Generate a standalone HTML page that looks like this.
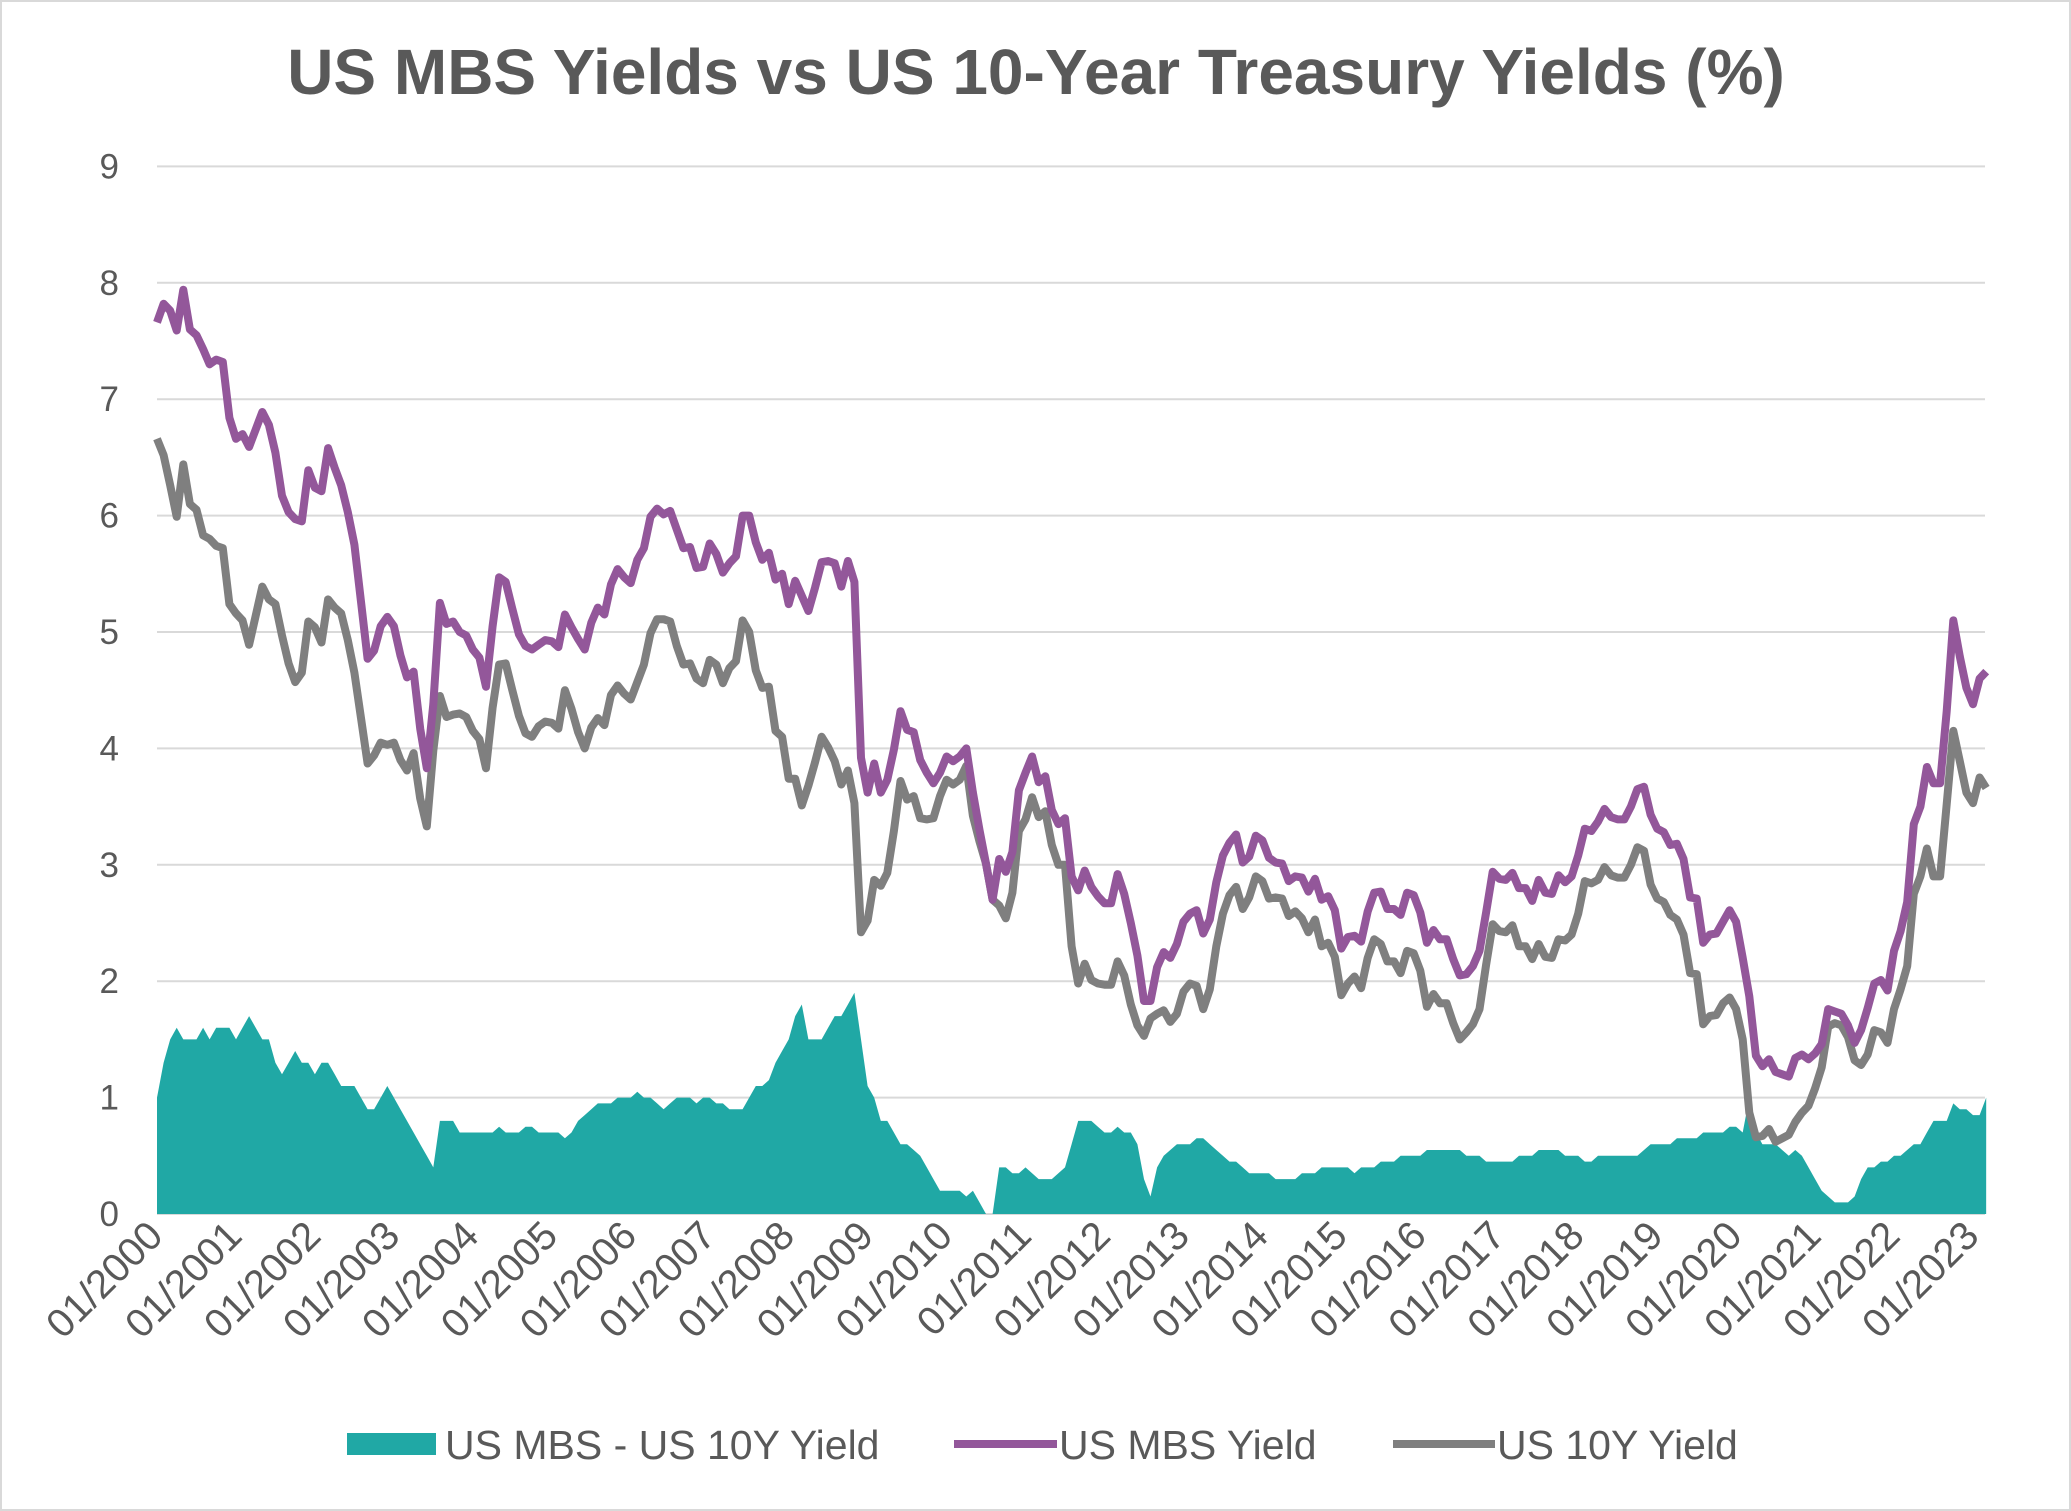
<!DOCTYPE html>
<html><head><meta charset="utf-8"><style>
html,body{margin:0;padding:0;background:#fff;}
svg{display:block;font-family:"Liberation Sans",Arial,sans-serif;}
</style></head><body>
<svg id="chart" width="2071" height="1511" viewBox="0 0 2071 1511" xmlns="http://www.w3.org/2000/svg">
<rect x="1" y="1" width="2069" height="1509" fill="#fff" stroke="#d9d9d9" stroke-width="2"/>
<text x="1036" y="94" text-anchor="middle" font-size="64" font-weight="bold" fill="#595959">US MBS Yields vs US 10-Year Treasury Yields (%)</text>
<g id="grid"></g><g id="yticks"></g><g id="xticks"></g><g id="series"></g>
<g>
<rect x="347" y="1433" width="89" height="22" fill="#20A8A5"/>
<text x="445" y="1459" font-size="41" fill="#595959">US MBS - US 10Y Yield</text>
<line x1="954" y1="1444" x2="1057" y2="1444" stroke="#93579A" stroke-width="8"/>
<text x="1059" y="1459" font-size="41" fill="#595959">US MBS Yield</text>
<line x1="1393" y1="1444" x2="1495" y2="1444" stroke="#7F7F7F" stroke-width="8"/>
<text x="1497" y="1459" font-size="41" fill="#595959">US 10Y Yield</text>
</g>
</svg>
<script>
const yTicks=[0,1,2,3,4,5,6,7,8,9];
const xTickLabels=["01/2000","01/2001","01/2002","01/2003","01/2004","01/2005","01/2006","01/2007","01/2008","01/2009","01/2010","01/2011","01/2012","01/2013","01/2014","01/2015","01/2016","01/2017","01/2018","01/2019","01/2020","01/2021","01/2022","01/2023"];
const tenY=[6.66,6.52,6.26,5.99,6.44,6.10,6.05,5.83,5.80,5.74,5.72,5.24,
5.16,5.10,4.89,5.14,5.39,5.28,5.24,4.97,4.73,4.57,4.65,5.09,
5.04,4.91,5.28,5.21,5.16,4.93,4.65,4.26,3.87,3.94,4.05,4.03,
4.05,3.90,3.81,3.96,3.57,3.33,3.98,4.45,4.27,4.29,4.30,4.27,
4.15,4.08,3.83,4.35,4.72,4.73,4.50,4.28,4.13,4.10,4.19,4.23,
4.22,4.17,4.50,4.34,4.14,4.00,4.18,4.26,4.20,4.46,4.54,4.47,
4.42,4.57,4.72,4.99,5.11,5.11,5.09,4.88,4.72,4.73,4.60,4.56,
4.76,4.72,4.56,4.69,4.75,5.10,5.00,4.67,4.52,4.53,4.15,4.10,
3.74,3.74,3.51,3.68,3.88,4.10,4.01,3.89,3.69,3.81,3.53,2.42,
2.52,2.87,2.82,2.93,3.29,3.72,3.56,3.59,3.40,3.39,3.40,3.59,
3.73,3.69,3.73,3.85,3.42,3.20,3.01,2.70,2.65,2.54,2.76,3.29,
3.39,3.58,3.41,3.46,3.17,3.00,3.00,2.30,1.98,2.15,2.01,1.98,
1.97,1.97,2.17,2.05,1.80,1.62,1.53,1.68,1.72,1.75,1.65,1.72,
1.91,1.98,1.96,1.76,1.93,2.30,2.58,2.74,2.81,2.62,2.72,2.90,
2.86,2.71,2.72,2.71,2.56,2.60,2.54,2.42,2.53,2.30,2.33,2.21,
1.88,1.98,2.04,1.94,2.20,2.36,2.32,2.17,2.17,2.07,2.26,2.24,
2.09,1.78,1.89,1.81,1.81,1.64,1.50,1.56,1.63,1.76,2.14,2.49,
2.43,2.42,2.48,2.30,2.30,2.19,2.32,2.21,2.20,2.36,2.35,2.40,
2.58,2.86,2.84,2.87,2.98,2.91,2.89,2.89,3.00,3.15,3.12,2.83,
2.71,2.68,2.57,2.53,2.40,2.07,2.06,1.63,1.70,1.71,1.81,1.86,
1.76,1.50,0.87,0.66,0.67,0.73,0.62,0.65,0.68,0.79,0.87,0.93,
1.08,1.26,1.61,1.64,1.62,1.52,1.32,1.28,1.37,1.58,1.56,1.47,
1.76,1.93,2.13,2.75,2.90,3.14,2.90,2.90,3.52,4.15,3.89,3.62,
3.53,3.75,3.66];
const spread=[1.0,1.3,1.5,1.6,1.5,1.5,1.5,1.6,1.5,1.6,1.6,1.6,
1.5,1.6,1.7,1.6,1.5,1.5,1.3,1.2,1.3,1.4,1.3,1.3,
1.2,1.3,1.3,1.2,1.1,1.1,1.1,1.0,0.9,0.9,1.0,1.1,
1.0,0.9,0.8,0.7,0.6,0.5,0.4,0.8,0.8,0.8,0.7,0.7,
0.7,0.7,0.7,0.7,0.75,0.7,0.7,0.7,0.75,0.75,0.7,0.7,
0.7,0.7,0.65,0.7,0.8,0.85,0.9,0.95,0.95,0.95,1.0,1.0,
1.0,1.05,1.0,1.0,0.95,0.9,0.95,1.0,1.0,1.0,0.95,1.0,
1.0,0.95,0.95,0.9,0.9,0.9,1.0,1.1,1.1,1.15,1.3,1.4,
1.5,1.7,1.8,1.5,1.5,1.5,1.6,1.7,1.7,1.8,1.9,1.5,
1.1,1.0,0.8,0.8,0.7,0.6,0.6,0.55,0.5,0.4,0.3,0.2,
0.2,0.2,0.2,0.15,0.2,0.1,0.0,0.0,0.4,0.4,0.35,0.35,
0.4,0.35,0.3,0.3,0.3,0.35,0.4,0.6,0.8,0.8,0.8,0.75,
0.7,0.7,0.75,0.7,0.7,0.6,0.3,0.15,0.4,0.5,0.55,0.6,
0.6,0.6,0.65,0.65,0.6,0.55,0.5,0.45,0.45,0.4,0.35,0.35,
0.35,0.35,0.3,0.3,0.3,0.3,0.35,0.35,0.35,0.4,0.4,0.4,
0.4,0.4,0.35,0.4,0.4,0.4,0.45,0.45,0.45,0.5,0.5,0.5,
0.5,0.55,0.55,0.55,0.55,0.55,0.55,0.5,0.5,0.5,0.45,0.45,
0.45,0.45,0.45,0.5,0.5,0.5,0.55,0.55,0.55,0.55,0.5,0.5,
0.5,0.45,0.45,0.5,0.5,0.5,0.5,0.5,0.5,0.5,0.55,0.6,
0.6,0.6,0.6,0.65,0.65,0.65,0.65,0.7,0.7,0.7,0.7,0.75,
0.75,0.7,1.0,0.7,0.6,0.6,0.6,0.55,0.5,0.55,0.5,0.4,
0.3,0.2,0.15,0.1,0.1,0.1,0.15,0.3,0.4,0.4,0.45,0.45,
0.5,0.5,0.55,0.6,0.6,0.7,0.8,0.8,0.8,0.95,0.9,0.9,
0.85,0.85,1.0];

const NS='http://www.w3.org/2000/svg';
const X0=157,XSTEP=(1973-157)/276,Y0=1214,YUNIT=(1214-166.4)/9,XR=1985;
function xScale(i){return X0+i*XSTEP;}
function yScale(v){return Y0-v*YUNIT;}
function mk(tag,attrs,parent){const e=document.createElementNS(NS,tag);for(const k in attrs)e.setAttribute(k,attrs[k]);parent.appendChild(e);return e;}
const grid=document.getElementById('grid'),yt=document.getElementById('yticks'),xt=document.getElementById('xticks'),ser=document.getElementById('series');
yTicks.forEach(v=>{
  const l=mk('line',{x1:X0,x2:XR,y1:yScale(v),y2:yScale(v),stroke:'#d9d9d9','stroke-width':2},grid);
  
  
  const t=mk('text',{x:119,y:yScale(v)+12,'text-anchor':'end','font-size':35,fill:'#595959'},yt);
  t.textContent=v;
  
  
});
xTickLabels.forEach((s,k)=>{
  const x=xScale(k*12);
  const t=mk('text',{x:x+8,y:1238,'text-anchor':'end','font-size':40,fill:'#595959',transform:'rotate(-45 '+(x+8)+' 1238)'},xt);
  t.textContent=s;
  
  
});
let area='M'+xScale(0)+','+Y0;
spread.forEach((v,i)=>{area+=' L'+xScale(i).toFixed(1)+','+yScale(v).toFixed(1);});
area+=' L'+xScale(spread.length-1)+','+Y0+' Z';
const a=mk('path',{d:area,fill:'#20A8A5'},ser);


function line(vals,color,name){
  const d=vals.map((v,i)=>(i?'L':'M')+xScale(i).toFixed(1)+','+yScale(v).toFixed(1)).join(' ');
  const p=mk('path',{d:d,fill:'none',stroke:color,'stroke-width':8,'stroke-linejoin':'round'},ser);
  
  
}
const mbs=tenY.map((v,i)=>v+spread[i]);
line(tenY,'#7F7F7F','us-10y-yield-line');
line(mbs,'#93579A','us-mbs-yield-line');
</script>
</body></html>
